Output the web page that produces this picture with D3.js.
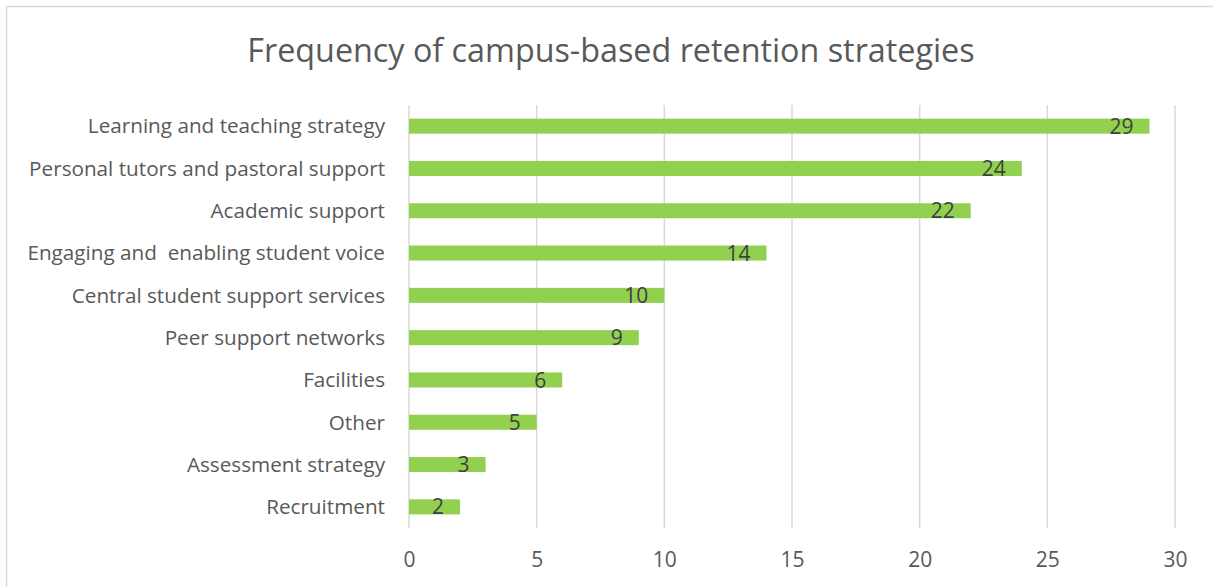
<!DOCTYPE html>
<html>
<head>
<meta charset="utf-8">
<script src="https://cdn.jsdelivr.net/npm/d3@7"></script>
<style>
  html, body { margin: 0; padding: 0; background: #fff; }
  svg { display: block; font-family: "Open Sans", "Noto Sans", sans-serif; }
</style>
</head>
<body>
<div id="chart"></div>
<script>
// data
var categories = [
  "Learning and teaching strategy",
  "Personal tutors and pastoral support",
  "Academic support",
  "Engaging and  enabling student voice",
  "Central student support services",
  "Peer support networks",
  "Facilities",
  "Other",
  "Assessment strategy",
  "Recruitment"
];
var values = [29, 24, 22, 14, 10, 9, 6, 5, 3, 2];
var xTicks = [0, 5, 10, 15, 20, 25, 30];
var chartTitle = "Frequency of campus-based retention strategies";

var W = 1213, H = 587;
var svg = d3.select("#chart").append("svg")
  .attr("width", W)
  .attr("height", H);

// chart border (only top/left visible in the crop)
svg.append("rect")
  .attr("x", 6.5).attr("y", 6.5)
  .attr("width", W + 10).attr("height", H + 10)
  .attr("fill", "#fff")
  .attr("stroke", "#d9d9d9")
  .attr("stroke-width", 1.5);

var plot = { left: 409, right: 1175, top: 105, bottom: 528 };

var xScale = d3.scaleLinear().domain([0, 30]).range([plot.left, plot.right]);
var yScale = d3.scaleBand().domain(categories)
  .range([plot.top, plot.bottom])
  .paddingInner(0.645).paddingOuter(0.3225);

// title
svg.append("text")
  .attr("x", 611).attr("y", 62)
  .attr("text-anchor", "middle")
  .attr("fill", "#595959")
  .style("font-size", "32.3px")
  .text(chartTitle);

// gridlines
svg.append("g").selectAll("line")
  .data(xTicks)
  .enter().append("line")
  .attr("x1", function(d) { return xScale(d); })
  .attr("x2", function(d) { return xScale(d); })
  .attr("y1", plot.top)
  .attr("y2", plot.bottom)
  .attr("stroke", "#d9d9d9")
  .attr("stroke-width", 1.5);

// x axis labels
var xAxis = d3.axisBottom(xScale).tickValues(xTicks).tickSize(0).tickPadding(0);
var xg = svg.append("g")
  .attr("transform", "translate(0," + plot.bottom + ")")
  .call(xAxis);
xg.select(".domain").remove();
xg.selectAll("text")
  .attr("y", 39)
  .attr("dy", null)
  .attr("fill", "#595959")
  .style("font-size", "21px")
  .style("font-family", "'Open Sans', sans-serif");

// y axis labels
var yAxis = d3.axisLeft(yScale).tickSize(0).tickPadding(0);
var yg = svg.append("g")
  .attr("transform", "translate(385,0)")
  .call(yAxis);
yg.select(".domain").remove();
yg.selectAll("text")
  .attr("dy", "0.35em")
  .attr("fill", "#595959")
  .style("font-size", "20.7px")
  .style("font-family", "'Open Sans', sans-serif")
  .style("white-space", "pre");

// bars
var bar_g = svg.append("g").attr("class", "bars");
bar_g.selectAll("rect")
  .data(values)
  .enter().append("rect")
  .attr("x", xScale(0))
  .attr("y", function(d, i) { return yScale(categories[i]); })
  .attr("width", function(d) { return xScale(d) - xScale(0); })
  .attr("height", yScale.bandwidth())
  .attr("fill", "#92d050");

// value labels
bar_g.selectAll("text")
  .data(values)
  .enter().append("text")
  .attr("x", function(d) { return xScale(d) - 16; })
  .attr("y", function(d, i) { return yScale(categories[i]) + yScale.bandwidth() / 2; })
  .attr("dy", "0.36em")
  .attr("text-anchor", "end")
  .attr("fill", "#404040")
  .style("font-size", "21px")
  .text(function(d) { return d; });
</script>
</body>
</html>
